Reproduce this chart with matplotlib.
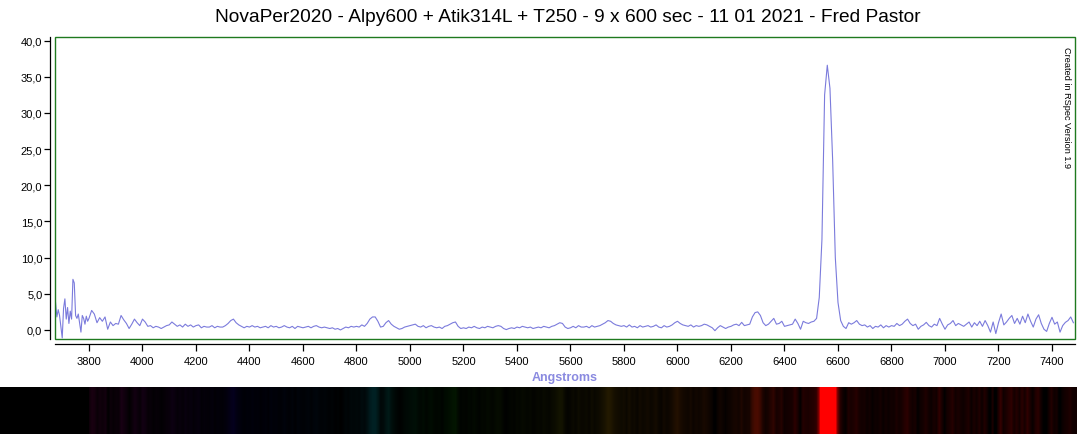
import numpy as np
import matplotlib
matplotlib.use("Agg")
import matplotlib.pyplot as plt
from matplotlib.patches import Rectangle
from matplotlib.ticker import FuncFormatter, MultipleLocator

# Blue end of the spectrum, read every 5 A starting at 3675 A
BLUE_START, BLUE_STEP = 3675, 5
BLUE_FLUX = [
    3.8, 1.8, 2.8, 2.0, 0.5, -1.1, 3.0, 4.3, 1.5, 3.1,
    0.9, 2.6, 1.5, 7.0, 6.5, 2.0, 1.6, 2.2, 1.0, -0.3,
    2.0, 1.6, 0.8, 1.9, 1.2,
]

# Rest of the spectrum, read every 10 A starting at 3800 A
MAIN_START, MAIN_STEP = 3800, 10
MAIN_FLUX = [
    1.6, 2.7, 2.2, 1.0, 1.7, 1.2, 1.8, 0.1, 1.1, 0.6,   # 3800
    0.9, 0.8, 2.0, 1.4, 0.9, 0.2, 0.8, 1.5, 1.0, 0.6,   # 3900
    1.5, 1.1, 0.5, 0.6, 0.3, 0.5, 0.4, 0.2, 0.4, 0.6,   # 4000
    0.7, 1.1, 0.8, 0.5, 0.7, 0.4, 0.8, 0.5, 0.7, 0.4,   # 4100
    0.6, 0.7, 0.3, 0.5, 0.4, 0.4, 0.6, 0.3, 0.5, 0.4,   # 4200
    0.4, 0.6, 0.9, 1.3, 1.5, 1.0, 0.7, 0.5, 0.3, 0.5,   # 4300
    0.4, 0.6, 0.4, 0.5, 0.3, 0.4, 0.5, 0.3, 0.6, 0.4,   # 4400
    0.5, 0.3, 0.4, 0.6, 0.4, 0.3, 0.5, 0.2, 0.5, 0.4,   # 4500
    0.3, 0.4, 0.5, 0.3, 0.5, 0.6, 0.4, 0.3, 0.4, 0.3,   # 4600
    0.2, 0.3, 0.1, 0.2, 0.0, 0.2, 0.4, 0.3, 0.5, 0.4,   # 4700
    0.5, 0.4, 0.7, 0.5, 0.9, 1.5, 1.8, 1.8, 1.2, 0.4,   # 4800
    0.5, 1.0, 1.3, 0.8, 0.5, 0.3, 0.1, 0.2, 0.4, 0.5,   # 4900
    0.6, 0.7, 0.8, 0.5, 0.4, 0.6, 0.3, 0.5, 0.6, 0.4,   # 5000
    0.3, 0.4, 0.2, 0.5, 0.6, 0.8, 1.0, 1.1, 0.5, 0.2,   # 5100
    0.3, 0.2, 0.4, 0.3, 0.5, 0.3, 0.2, 0.4, 0.3, 0.5,   # 5200
    0.4, 0.3, 0.5, 0.6, 0.5, 0.2, 0.05, 0.2, 0.3, 0.2,  # 5300
    0.4, 0.3, 0.5, 0.4, 0.3, 0.4, 0.2, 0.3, 0.4, 0.3,   # 5400
    0.5, 0.4, 0.3, 0.5, 0.6, 0.8, 1.0, 0.9, 0.4, 0.2,   # 5500
    0.3, 0.5, 0.3, 0.6, 0.4, 0.4, 0.5, 0.3, 0.6, 0.4,   # 5600
    0.5, 0.6, 0.8, 1.0, 1.3, 1.2, 0.9, 0.7, 0.6, 0.5,   # 5700
    0.6, 0.4, 0.7, 0.4, 0.5, 0.3, 0.6, 0.4, 0.5, 0.6,   # 5800
    0.4, 0.5, 0.7, 0.4, 0.3, 0.6, 0.4, 0.5, 0.7, 1.0,   # 5900
    1.2, 0.9, 0.7, 0.6, 0.5, 0.7, 0.4, 0.6, 0.5, 0.6,   # 6000
    0.8, 0.7, 0.5, 0.3, -0.1, 0.3, 0.6, 0.4, 0.2, 0.4,  # 6100
    0.5, 0.7, 0.8, 0.6, 1.05, 0.6, 0.7, 0.8, 1.8, 2.4,  # 6200
    2.5, 2.0, 1.0, 0.6, 0.8, 1.2, 1.6, 0.8, 0.9, 1.2,   # 6300
    0.5, 0.6, 0.7, 0.8, 1.5, 0.9, 0.1, 1.2, 1.0, 0.9,   # 6400
    1.1, 1.2, 1.6, 4.5, 12.5, 32.5, 36.6, 33.4, 23.5, 10.0,  # 6500
    3.8, 1.3, 0.5, 0.2, 1.0, 0.8, 1.0, 1.3, 0.8, 0.6,   # 6600
    0.7, 0.4, 0.6, 0.2, 0.5, 0.4, 0.7, 0.3, 0.6, 0.4,   # 6700
    0.6, 0.5, 0.9, 0.6, 0.8, 1.2, 1.5, 0.9, 0.6, 0.8,   # 6800
    0.1, 0.5, 0.7, 1.05, 0.6, 0.4, 0.8, 0.6, 1.6, 0.8,  # 6900
    0.1, 0.7, 0.9, 1.3, 0.6, 0.9, 0.7, 0.5, 0.8, 1.1,   # 7000
    0.4, 1.0, 0.6, 1.2, 0.5, 1.3, 0.6, -0.3, 1.1, -0.5,  # 7100
    1.0, 2.2, 0.7, 1.1, 1.6, 2.0, 0.9, 1.6, 0.8, 1.9,   # 7200
    1.0, 2.2, 1.2, 0.4, 1.5, 2.1, 0.9, 0.1, -0.2, 0.9,  # 7300
    1.75, 0.8, 1.1, -0.3, 0.6, 1.05, 1.3, 1.8, 1.0,     # 7400
]

TITLE = ("NovaPer2020 - Alpy600 + Atik314L + T250 - 9 x 600 sec - "
         "11 01 2021 - Fred Pastor")
X_LIMITS = (3673, 7486)
Y_LIMITS = (-1.25, 40.5)

LINE_COLOR = "#7b7bdc"
BOX_COLOR = "#1f7a1f"

plt.rcParams["font.family"] = ["Liberation Sans", "DejaVu Sans"]


def wavelength_rgb(nm):
    # rough visible-light colour for a wavelength in nm
    if 380 <= nm < 440:
        r, g, b = -(nm - 440) / 60, 0.0, 1.0
    elif 440 <= nm < 490:
        r, g, b = 0.0, (nm - 440) / 50, 1.0
    elif 490 <= nm < 510:
        r, g, b = 0.0, 1.0, -(nm - 510) / 20
    elif 510 <= nm < 580:
        r, g, b = (nm - 510) / 70, 1.0, 0.0
    elif 580 <= nm < 645:
        r, g, b = 1.0, -(nm - 645) / 65, 0.0
    elif 645 <= nm <= 780:
        r, g, b = 1.0, 0.0, 0.0
    else:
        return (0.0, 0.0, 0.0)
    if nm < 420:
        f = 0.3 + 0.7 * (nm - 380) / 40
    elif nm > 700:
        f = 0.3 + 0.7 * (780 - nm) / 80
    else:
        f = 1.0
    return (r * f, g * f, b * f)


blue_wave = BLUE_START + BLUE_STEP * np.arange(len(BLUE_FLUX))
main_wave = MAIN_START + MAIN_STEP * np.arange(len(MAIN_FLUX))
wave = np.concatenate([blue_wave, main_wave])
flux = np.array(BLUE_FLUX + MAIN_FLUX)

fig = plt.figure(figsize=(10.77, 4.35), dpi=100)
ax = fig.add_axes([55 / 1077, 95 / 435, 1020 / 1077, 302 / 435])

ax.plot(wave, flux, color=LINE_COLOR, lw=0.8)
ax.set_xlim(*X_LIMITS)
ax.set_ylim(*Y_LIMITS)

# green plot frame, black axes pushed slightly outside it
ax.add_patch(Rectangle((0, 0), 1, 1, transform=ax.transAxes, fill=False,
                       edgecolor=BOX_COLOR, lw=1.0, clip_on=False, zorder=3))
ax.spines["top"].set_visible(False)
ax.spines["right"].set_visible(False)
for side in ("left", "bottom"):
    ax.spines[side].set_position(("outward", 3.6))
    ax.spines[side].set_color("black")
    ax.spines[side].set_linewidth(0.9)

ax.yaxis.set_major_locator(MultipleLocator(5))
ax.yaxis.set_major_formatter(FuncFormatter(lambda v, _: f"{v:.1f}".replace(".", ",")))
ax.set_xticks(np.arange(3800, 7401, 200))
ax.tick_params(axis="y", length=4, width=0.9, labelsize=8, pad=1.5)
ax.tick_params(axis="x", length=5, width=0.9, labelsize=8, pad=4)

ax.set_xlabel("Angstroms", fontsize=9, fontweight="bold", color="#8a8ae0",
              labelpad=3)
fig.text(568 / 1077, 1 - 17 / 435, TITLE, ha="center", va="center",
         fontsize=13.8)
ax.text(0.9915, 0.97, "Created in RSpec Version 1.9", transform=ax.transAxes,
        rotation=270, ha="center", va="top", fontsize=6.6)

# colour strip of the spectrum under the plot
strip = fig.add_axes([0, 0, 1, 47 / 435])
px_lo = X_LIMITS[0] - 55 * (X_LIMITS[1] - X_LIMITS[0]) / 1020
px_hi = X_LIMITS[1] + 2 * (X_LIMITS[1] - X_LIMITS[0]) / 1020
cols = np.linspace(px_lo, px_hi, 1077)
level = np.clip(np.interp(cols, wave, flux, left=0, right=flux[-1]) / 13, 0, 1)
rgb = np.array([wavelength_rgb(w / 10) for w in cols]) * level[:, None]
rgb[:, 0] = np.clip(rgb[:, 0] * 1.5, 0, 1)
strip.imshow(rgb[None, :, :], aspect="auto", interpolation="nearest")
strip.set_axis_off()

fig.savefig("out.png", dpi=100)
